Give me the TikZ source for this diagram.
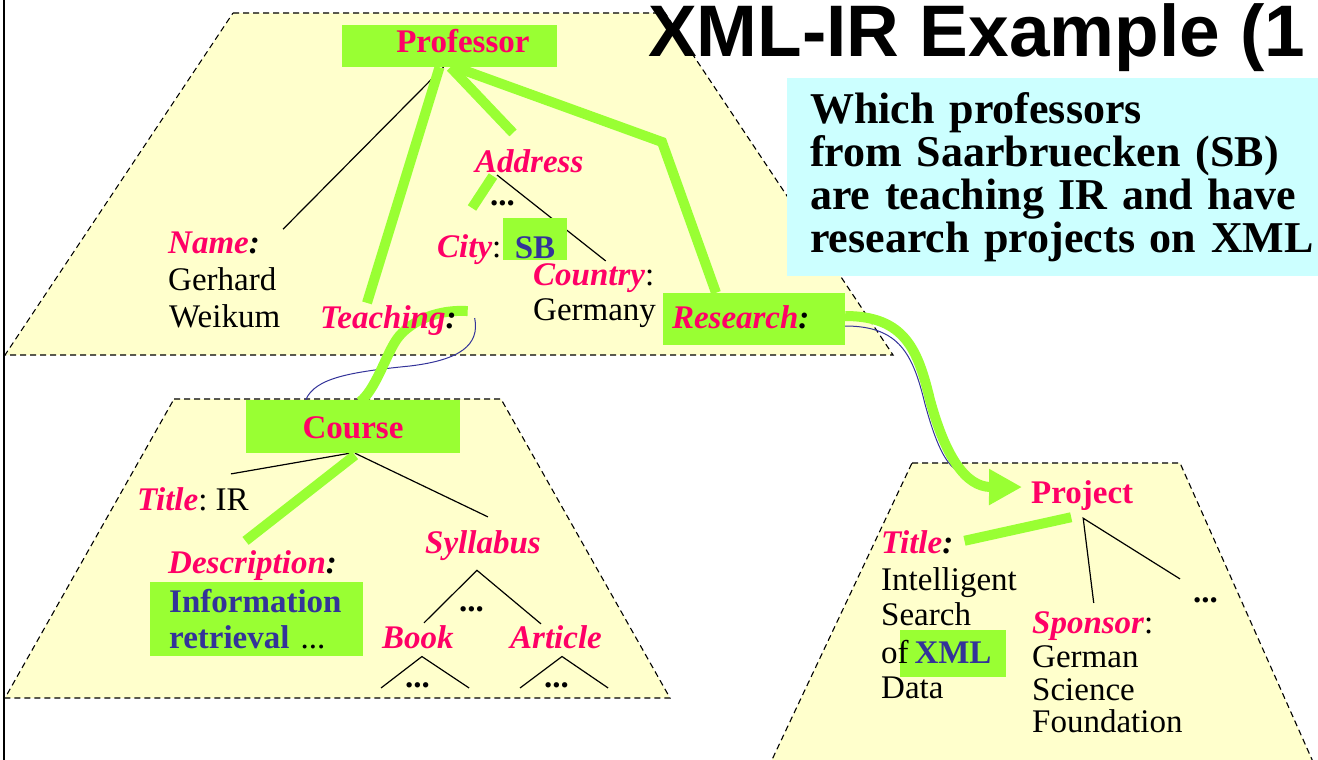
\documentclass[tikz,border=0pt]{standalone}
\usepackage{fontspec}
\setmainfont{Liberation Serif}
\newfontfamily\headfont{Liberation Sans}
\usetikzlibrary{arrows.meta}
\pgfdeclarelayer{sheets}
\pgfdeclarelayer{wires}
\pgfsetlayers{sheets,wires,main}
\definecolor{labelpink}{RGB}{255,0,102}
\definecolor{hitgreen}{RGB}{153,255,51}
\definecolor{valueblue}{RGB}{51,51,153}
\definecolor{treeyellow}{RGB}{255,255,204}
\definecolor{querycyan}{RGB}{204,255,255}
\newcommand\bodyfont{\fontsize{33}{36}\selectfont}
\newcommand\bcolon{\textcolor{black}{:}}
\newcommand\ncolon{\textcolor{black}{\normalfont:}}
\tikzset{
  tag/.style={font=\bodyfont\bfseries\itshape, text=labelpink, inner sep=0pt, anchor=base west},
  val/.style={font=\bodyfont, inner sep=0pt, anchor=base west},
  ellip/.style={font=\bodyfont\bfseries, inner sep=0pt, anchor=base west},
  hitbox/.style={fill=hitgreen, font=\bodyfont\bfseries, inner ysep=0pt, anchor=base},
  trapez/.style={fill=treeyellow, draw=black, line width=1.1pt, dash pattern=on 6pt off 4pt},
  branch/.style={line width=1.2pt},
  hitline/.style={draw=hitgreen, line width=10pt},
  navylink/.style={draw=valueblue, line width=1pt}
}

\begin{document}
\begin{tikzpicture}[x=1pt, y=-1pt]
	\useasboundingbox (0,0) rectangle (1318,760);
	\clip (0,0) rectangle (1318,760);
	
	\begin{pgfonlayer}{sheets}
		\draw[trapez] (233,13) -- (665,13) -- (893,355) -- (5,355) -- cycle;
		\draw[trapez] (174,399) -- (501,399) -- (670,698) -- (5,698) -- cycle;
		\draw[trapez] (912,463) -- (1180,463) -- (1330,800) -- (753,800) -- cycle;
		\draw[line width=1.5pt] (4,0) -- (4,760);
	\end{pgfonlayer}
	
	\node[anchor=base west, inner sep=0pt, font=\headfont\bfseries\fontsize{73}{78}\selectfont] (heading) at (648,57) {XML-IR Example (1};
	\node[fill=querycyan, anchor=north west, minimum height=198pt, text width=560pt, align=left, inner xsep=23pt, inner ysep=0pt, font=\fontsize{44}{43}\selectfont\bfseries] (query) at (787,78) {Which professors\\from Saarbruecken (SB)\\are teaching IR and have\\research projects on XML};
	
	\node[hitbox, text=labelpink, text width=160pt, align=right, inner xsep=27.5pt, text height=28pt, text depth=14pt] (prof) at (449.5,53) {Professor};
	\node[tag] (name) at (168,253) {Name\bcolon};
	\node[val] (gerhard) at (168,290) {Gerhard};
	\node[val] (weikum) at (169,327) {Weikum};
	\node[tag] (teaching) at (320,328) {Teaching\bcolon};
	\node[tag] (address) at (475,172) {Address};
	\node[ellip] (adots) at (490,205) {...};
	\node[tag] (city) at (437,257) {City\ncolon};
	\node[hitbox, text=valueblue, minimum width=64pt, text height=40pt, text depth=2pt] (sb) at (535,258) {SB};
	\node[tag] (country) at (533,285) {Country\ncolon};
	\node[val] (germany) at (533,320) {Germany};
	\node[hitbox, text=labelpink, text width=164pt, align=left, inner xsep=9pt, text height=35pt, text depth=17pt] (research) at (754,328) {\itshape Research\bcolon};
	
	\node[hitbox, text=labelpink, minimum width=214pt, text height=38pt, text depth=15pt] (course) at (353,438) {Course};
	\node[tag] (ctitle) at (137,510) {Title\ncolon\textcolor{black}{\normalfont\ IR}};
	\node[tag] (descr) at (168,573) {Description\bcolon};
	\node[hitbox, text=valueblue, anchor=north west, minimum width=213pt, minimum height=74pt, text width=175pt, align=left, inner xsep=19pt] (info) at (150,582) {Information\\retrieval \textcolor{black}{\normalfont ...}};
	\node[tag] (syllabus) at (425,553) {Syllabus};
	\node[ellip] (sdots) at (459,611) {...};
	\node[tag] (book) at (382,648) {Book};
	\node[tag] (article) at (510,648) {Article};
	\node[ellip] (bdots) at (405,687) {...};
	\node[ellip] (artdots) at (544,687) {...};
	
	\node[val, font=\bodyfont\bfseries, text=labelpink] (project) at (1031,503) {Project};
	\node[tag] (ptitle) at (881,553) {Title\bcolon};
	\node[val] (intel) at (881,590) {Intelligent};
	\node[val] (search) at (881,625) {Search};
	\node[hitbox, text=valueblue, minimum width=106pt, text height=33pt, text depth=14pt] (xml) at (953,663) {XML};
	\node[val] (of) at (881,663) {of};
	\node[val] (data) at (881,698) {Data};
	\node[tag] (sponsor) at (1032,633) {Sponsor\ncolon};
	\node[val] (german) at (1032,667) {German};
	\node[val] (science) at (1032,700) {Science};
	\node[val] (foundation) at (1032,732) {Foundation};
	\node[ellip] (pdots) at (1193,602) {...};
	
	\begin{pgfonlayer}{wires}
		\draw[branch] ([shift={(-6,0)}]prof.south) -- ([shift={(23,-2)}]name.north east);
		\draw[hitline] ([shift={(-10,0)}]prof.south) -- ([shift={(47,-2)}]teaching.north west);
		\draw[hitline] ([shift={(1,0)}]prof.south) -- ([shift={(38,-16)}]address.north west);
		\draw[hitline] ([shift={(6,0)}]prof.south) -- (662,142) -- ([shift={(-38,0)}]research.north);
		\draw[hitline] ([shift={(18,4)}]address.base west) -- ([shift={(35,-49)}]city.base west);
		\draw[branch] ([shift={(22,3)}]address.base west) -- ([shift={(12,-2)}]country.north);
		
		\draw[navylink] ([shift={(18,-2)}]teaching.east) .. controls (480,345) and (460,360) .. (410,366) .. controls (350,372) and (315,378) .. ([shift={(60,0)}]course.north west);
		\draw[hitline] ([shift={(11,-9)}]teaching.east) .. controls (432,309) and (405,325) .. (395,342) .. controls (385,358) and (375,390) .. ([shift={(7,2)}]course.north);
		
		\draw[branch] ([shift={(-3,0)}]course.south) -- ([shift={(38,-13)}]ctitle.north);
		\draw[branch] ([shift={(2,0)}]course.south) -- ([shift={(5,-13)}]syllabus.north);
		\draw[hitline] ([shift={(2,2)}]course.south) -- ([shift={(-7,-9)}]descr.north);
		\draw[branch] ([shift={(6,-2)}]book.north) -- ([shift={(-6,10)}]syllabus.south) -- ([shift={(-15,-1)}]article.north);
		\draw[branch] ([shift={(-24,1)}]bdots.base west) -- ([shift={(4,8)}]book.south) -- ([shift={(39,1)}]bdots.base east);
		\draw[branch] ([shift={(-24,1)}]artdots.base west) -- ([shift={(6,8)}]article.south) -- ([shift={(39,1)}]artdots.base east);
		
		\draw[navylink] ([shift={(0,7)}]research.east) .. controls (900,326) and (913,355) .. (925,404) .. controls (938,452) and (948,465) .. (958,471);
		\draw[hitline, -{Triangle[length=33pt, width=34pt]}] ([shift={(0,-3)}]research.east) .. controls (905,316) and (918,350) .. (930,400) .. controls (945,455) and (965,487) .. ([shift={(-9,-8)}]project.west);
		
		\draw[branch] ([shift={(1,-8)}]sponsor.north) -- ([shift={(1,8)}]project.south) -- ([shift={(-13,-18)}]pdots.north west);
		\draw[hitline] ([shift={(-11,7)}]project.south) -- ([shift={(11,-1)}]ptitle.east);
	\end{pgfonlayer}
\end{tikzpicture}
\end{document}
